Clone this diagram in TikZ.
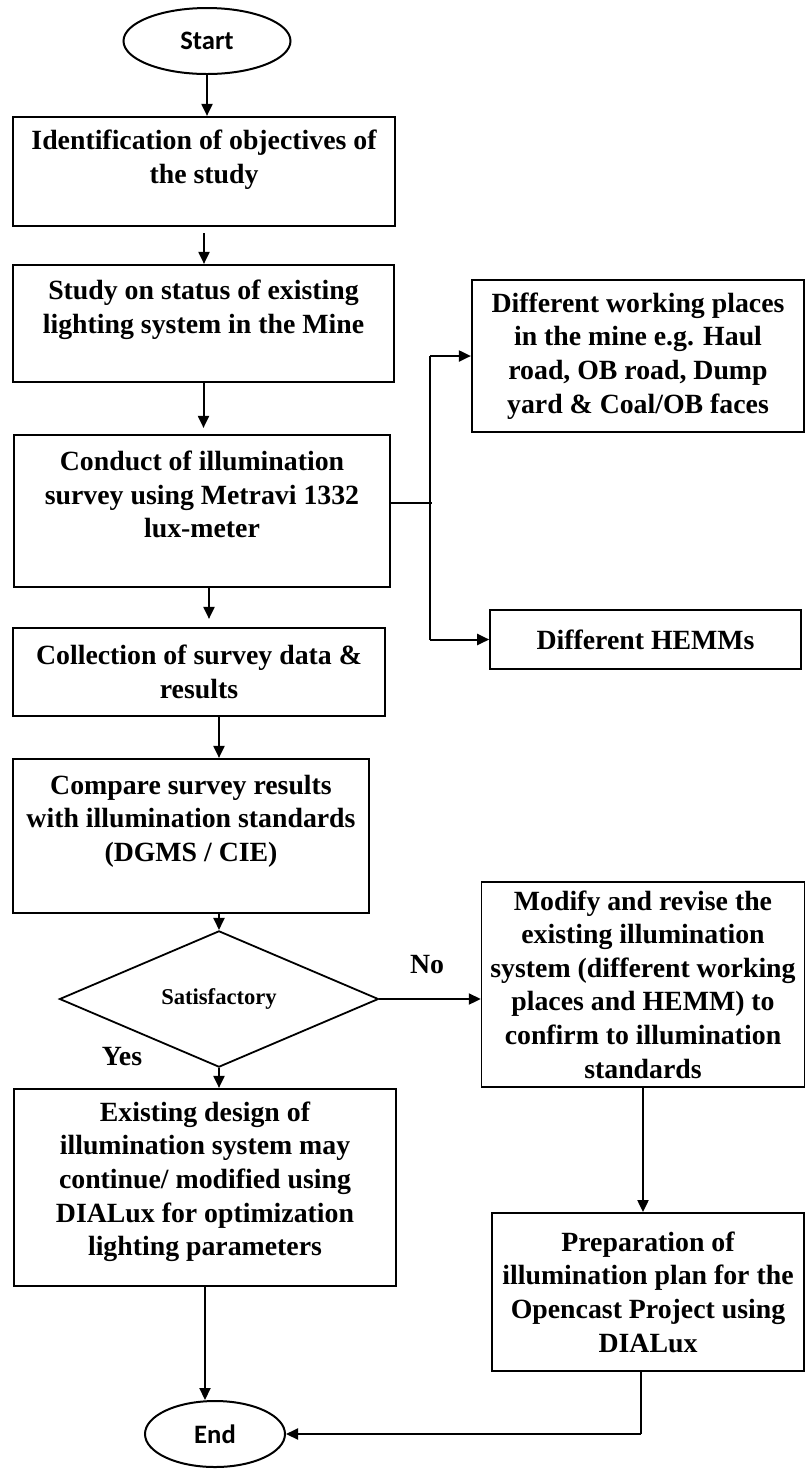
\documentclass[tikz,border=0pt]{standalone}
\usepackage{fontspec}
\setmainfont{Liberation Serif}
\newfontfamily\calibfont{Carlito}
\usetikzlibrary{arrows.meta, shapes.geometric}
\newcommand{\padbelow}[1]{\\[#1]\mbox{}}

\begin{document}
\begin{tikzpicture}[x=0.5pt, y=-0.5pt,
        box/.style={draw, rectangle, line width=1.1pt, align=center, inner sep=2pt,
                    font=\fontsize{13.9}{16.8}\selectfont\bfseries},
        thinbox/.style={box, line width=0.7pt},
        term/.style={draw, ellipse, line width=1pt, inner sep=0pt,
                     font=\calibfont\fontsize{13.3}{15}\selectfont\bfseries},
        decision/.style={draw, diamond, line width=0.9pt, inner sep=0pt,
                         font=\fontsize{11.3}{13}\selectfont\bfseries},
        tag/.style={font=\fontsize{13.9}{16}\selectfont\bfseries},
        arrow/.style={-{Triangle[length=6pt, width=5.5pt]}, line width=1pt},
        link/.style={line width=0.6pt}
    ]
    \useasboundingbox (0,0) rectangle (806,1469);

    % ---- Left column: main sequence ----
    \node[term, minimum width=83.5pt, minimum height=33pt] (start) at (207,41) {Start};
    \node[box, minimum width=191pt, minimum height=54.5pt] (ident) at (204,171.5)
        {Identification of objectives of\\the study\padbelow{-2pt}};
    \node[box, minimum width=190.5pt, minimum height=58.5pt] (study) at (203.5,323.5)
        {Study on status of existing\\lighting system in the Mine\padbelow{0pt}};
    \node[box, minimum width=188pt, minimum height=76pt] (conduct) at (202,511)
        {Conduct of illumination\\survey using Metravi 1332\\lux-meter\padbelow{0pt}};
    \node[box, minimum width=186pt, minimum height=44pt] (collect) at (199,672)
        {Collection of survey data \&\\results};
    \node[box, minimum width=178pt, minimum height=77pt] (compare) at (191,836)
        {Compare survey results\\with illumination standards\\(DGMS / CIE)\padbelow{1pt}};
    \node[decision, minimum width=159.5pt, minimum height=45pt] (satis) at (219,999) {Satisfactory};
    \node[box, minimum width=191pt, minimum height=98.5pt] (existing) at (205,1187.5)
        {Existing design of\\illumination system may\\continue/ modified using\\DIALux for optimization\\lighting parameters\padbelow{-8pt}};
    \node[term, minimum width=70pt, minimum height=33pt] (end) at (215,1434) {End};

    % ---- Right column ----
    \node[box, minimum width=166pt, minimum height=76pt] (places) at (638,356)
        {Different working places\\in the mine e.g. Haul\\road, OB road, Dump\\yard \& Coal/OB faces};
    \node[thinbox, line width=0.8pt, minimum width=155.5pt, minimum height=29.5pt] (hemm) at (645.5,639.5)
        {Different HEMMs};
    \node[thinbox, minimum width=161.5pt, minimum height=102.5pt] (modify) at (643,984.5)
        {Modify and revise the\\existing illumination\\system (different working\\places and HEMM) to\\confirm to illumination\\standards};
    \node[thinbox, line width=0.9pt, minimum width=156pt, minimum height=79pt] (prep) at (648,1292)
        {Preparation of\\illumination plan for the\\Opencast Project using\\DIALux};

    % Decision labels
    \node[tag] (no) at (427,965) {No};
    \node[tag] (yes) at (122,1057) {Yes};

    % ---- Connectors ----
    \draw[arrow] (start.south) -- (start.south |- ident.north);
    \draw[arrow, shorten <=3pt] (ident.south) -- (ident.south |- study.north);
    \draw[arrow, shorten >=3pt] (study.south) -- (study.south |- conduct.north);
    \draw[arrow, shorten >=4pt] ([xshift=3.5pt]conduct.south) -- ([xshift=3.5pt]conduct.south |- collect.north);
    \draw[arrow] (satis |- collect.south) -- (satis |- compare.north);
    \draw[arrow] (satis.north |- compare.south) -- (satis.north);
    \draw[arrow] (satis.south) -- (satis.south |- existing.north);
    \draw[arrow] (existing.south) -- (existing.south |- end.north);

    % branch to the survey places
    \coordinate (fork) at (430,503);
    \draw[line width=1pt] (conduct.east |- fork) -- ([xshift=1pt]fork);
    \draw[link] (fork |- places) -- (fork |- hemm);
    \draw[arrow] (fork |- places) -- (places);
    \draw[arrow] (fork |- hemm) -- (hemm);

    % "No" branch back to End
    \draw[arrow] (satis.east) -- (satis.east -| modify.west);
    \draw[arrow] (modify.south) -- (modify.south |- prep.north);
    \coordinate (bend) at ([xshift=-3.5pt]prep.south |- end);
    \draw[link] ([xshift=-3.5pt]prep.south) -- (bend);
    \draw[arrow] (bend) -- (end);

\end{tikzpicture}
\end{document}
